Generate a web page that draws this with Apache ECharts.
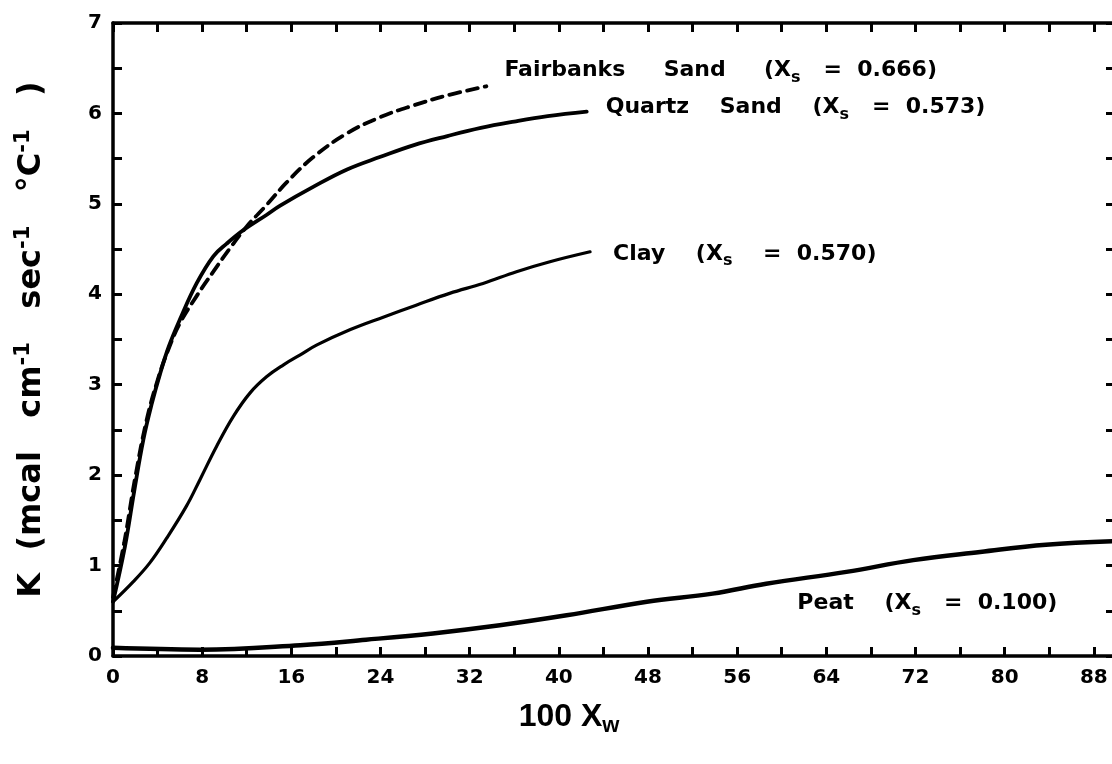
<!DOCTYPE html>
<html>
<head>
<meta charset="utf-8">
<script src="https://cdn.jsdelivr.net/npm/echarts@6/dist/echarts.min.js"></script>
<style>
html,body{margin:0;padding:0;background:#fff;}
#chart{width:1112px;height:764px;}
</style>
</head>
<body>
<div id="chart"></div>
<script>
// ---- data ----
const xTickLabels = [0, 8, 16, 24, 32, 40, 48, 56, 64, 72, 80, 88];
const yTickLabels = [0, 1, 2, 3, 4, 5, 6, 7];

const fairbanksX = [0, 1, 2, 3, 4, 5, 6, 7.5, 9, 10.5, 12, 13.8, 15.6, 18, 21, 24, 27, 30, 33.5];
const fairbanksY = [0.65, 1.25, 1.98, 2.6, 3.05, 3.4, 3.68, 3.98, 4.25, 4.51, 4.75, 4.99, 5.24, 5.52, 5.78, 5.96, 6.09, 6.2, 6.3];

const quartzX = [0, 1.07, 1.9, 2.72, 3.5, 4.22, 5, 6, 7.5, 9, 10.2, 11.7, 13.8, 15, 18, 21, 24, 27, 30, 33, 36, 39, 42.5];
const quartzY = [0.6, 1.21, 1.82, 2.39, 2.8, 3.12, 3.42, 3.72, 4.12, 4.42, 4.56, 4.71, 4.88, 4.98, 5.19, 5.38, 5.52, 5.65, 5.75, 5.84, 5.91, 5.97, 6.02];

const clayX = [0, 1.8, 3.3, 4.8, 6.6, 7.8, 9.3, 10.8, 12.3, 13.8, 15.3, 16.8, 18.3, 21.3, 24.3, 27.2, 30.2, 33.2, 36.2, 39.2, 42.8];
const clayY = [0.6, 0.82, 1.03, 1.3, 1.66, 1.95, 2.32, 2.65, 2.91, 3.09, 3.22, 3.33, 3.44, 3.61, 3.75, 3.88, 4.01, 4.12, 4.25, 4.36, 4.47];

const peatX = [0, 7.8, 16.8, 22.7, 28.7, 34.7, 40.7, 47.9, 53.8, 58.6, 65.8, 71.8, 77.8, 83.7, 89.9];
const peatY = [0.09, 0.07, 0.12, 0.18, 0.25, 0.34, 0.45, 0.6, 0.69, 0.8, 0.93, 1.06, 1.15, 1.23, 1.27];

const seriesNames = ['Fairbanks Sand', 'Quartz Sand', 'Clay', 'Peat'];
const xsValues = ['0.666', '0.573', '0.570', '0.100'];
const peatLabelAt = [61.4, 0.58];

// ---- build ----
const zip = (xs, ys) => xs.map((x, i) => [x, ys[i]]);
const FONT = '"Liberation Sans", Arial, Helvetica, sans-serif';
const WIDE = '"DejaVu Sans", Verdana, sans-serif';
const sp = (n) => ' '.repeat(n);
const labelRich = {
  b: { fontFamily: WIDE, fontWeight: 'bold', fontSize: 22, color: '#000', lineHeight: 28 },
  s: { fontFamily: WIDE, fontWeight: 'bold', fontSize: 16, color: '#000', padding: [15, 0, 0, 0], lineHeight: 28 }
};
// gaps: [between words, before "(", before "=", after "="]
const labelGaps = [[5, 5, 3, 2], [4, 4, 3, 2], [4, 4, 2], [4, 3, 2]];
function mkLabel(i) {
  const g = labelGaps[i];
  const words = seriesNames[i].split(' ');
  let name = words[0];
  let k = 0;
  if (words.length > 1) { name += sp(g[0]) + words[1]; k = 1; }
  const gOpen = g[k], gEq = g[k + 1], gVal = g[k + 2];
  return '{b|' + name + sp(gOpen) + '(X}{s|s}{b|' + sp(gEq) + '=' + sp(gVal) + xsValues[i] + ')}';
}

const xMin = 0, xMax = 89.9, yMin = 0, yMax = 7;
const axisLineStyle = { color: '#000', width: 3.5 };
const tickStyle = { color: '#000', width: 3 };
const tickLabelStyle = { color: '#000', fontFamily: WIDE, fontWeight: 'bold', fontSize: 20 };

const chart = echarts.init(document.getElementById('chart'), null, { renderer: 'canvas' });

const option = {
  backgroundColor: '#fff',
  animation: false,
  grid: { left: 113, width: 1002, top: 23, bottom: 108, containLabel: false, outerBoundsMode: 'none' },
  xAxis: [
    {
      type: 'value', position: 'bottom', min: xMin, max: xMax, interval: 4,
      axisLine: { show: true, onZero: false, lineStyle: axisLineStyle },
      axisTick: { show: true, inside: true, length: 9, lineStyle: tickStyle },
      splitLine: { show: false },
      axisLabel: Object.assign({
        show: true, margin: 12, showMaxLabel: false,
        formatter: (v) => (xTickLabels.indexOf(v) >= 0 ? String(v) : '')
      }, tickLabelStyle),
      name: '{b|100 X}{s|w}',
      nameLocation: 'middle', nameGap: 42,
      nameTextStyle: {
        padding: [0, 90, 0, 0],
        rich: {
          b: { fontFamily: FONT, fontWeight: 'bold', fontSize: 32, color: '#000', lineHeight: 38 },
          s: { fontFamily: FONT, fontWeight: 'bold', fontSize: 22, color: '#000', padding: [18, 0, 0, 0], lineHeight: 38 }
        }
      }
    },
    {
      type: 'value', position: 'top', min: xMin, max: xMax, interval: 4,
      axisLine: { show: true, onZero: false, lineStyle: axisLineStyle },
      axisTick: { show: true, inside: true, length: 9, lineStyle: tickStyle },
      splitLine: { show: false },
      axisLabel: { show: false }
    }
  ],
  yAxis: [
    {
      type: 'value', position: 'left', min: yMin, max: yMax, interval: 0.5,
      axisLine: { show: true, onZero: false, lineStyle: axisLineStyle },
      axisTick: { show: true, inside: true, length: 9, lineStyle: tickStyle },
      splitLine: { show: false },
      axisLabel: Object.assign({
        show: true, margin: 11,
        formatter: (v) => (yTickLabels.indexOf(v) >= 0 ? String(v) : '')
      }, tickLabelStyle),
      name: '{b|K  (mcal   cm}{p|-1}{b|   sec}{p|-1}{b|   °C}{p|-1}{b|   )}',
      nameLocation: 'middle', nameRotate: 90, nameGap: 61,
      nameTextStyle: {
        rich: {
          b: { fontFamily: WIDE, fontWeight: 'bold', fontSize: 32, color: '#000', lineHeight: 40 },
          p: { fontFamily: WIDE, fontWeight: 'bold', fontSize: 21, color: '#000', padding: [0, 0, 16, 0], lineHeight: 40 }
        }
      }
    },
    {
      type: 'value', position: 'right', min: yMin, max: yMax, interval: 0.5,
      axisLine: { show: true, onZero: false, lineStyle: axisLineStyle },
      axisTick: { show: true, inside: true, length: 9, lineStyle: tickStyle },
      splitLine: { show: false },
      axisLabel: { show: false }
    }
  ],
  series: [
    {
      name: seriesNames[0], type: 'line', xAxisIndex: 0, yAxisIndex: 0,
      data: zip(fairbanksX, fairbanksY), smooth: 0.4, showSymbol: false, symbol: 'none',
      lineStyle: { color: '#000', width: 3.8, type: [11, 7], cap: 'round' },
      endLabel: { show: true, formatter: mkLabel(0), offset: [10, -16], rich: labelRich }
    },
    {
      name: seriesNames[1], type: 'line', xAxisIndex: 0, yAxisIndex: 0,
      data: zip(quartzX, quartzY), smooth: 0.4, showSymbol: false, symbol: 'none',
      lineStyle: { color: '#000', width: 3.8, cap: 'round' },
      endLabel: { show: true, formatter: mkLabel(1), offset: [11, -4], rich: labelRich }
    },
    {
      name: seriesNames[2], type: 'line', xAxisIndex: 0, yAxisIndex: 0,
      data: zip(clayX, clayY), smooth: 0.4, showSymbol: false, symbol: 'none',
      lineStyle: { color: '#000', width: 3.2, cap: 'round' },
      endLabel: { show: true, formatter: mkLabel(2), offset: [15, 2], rich: labelRich }
    },
    {
      name: seriesNames[3], type: 'line', xAxisIndex: 0, yAxisIndex: 0,
      data: zip(peatX, peatY), smooth: 0.4, showSymbol: false, symbol: 'none',
      lineStyle: { color: '#000', width: 4.5, cap: 'round' },
      markPoint: {
        symbol: 'circle', symbolSize: 0, silent: true,
        label: { show: true, position: 'right', distance: 0, formatter: mkLabel(3), rich: labelRich },
        data: [{ coord: peatLabelAt }]
      }
    }
  ]
};
chart.setOption(option);
</script>
</body>
</html>
